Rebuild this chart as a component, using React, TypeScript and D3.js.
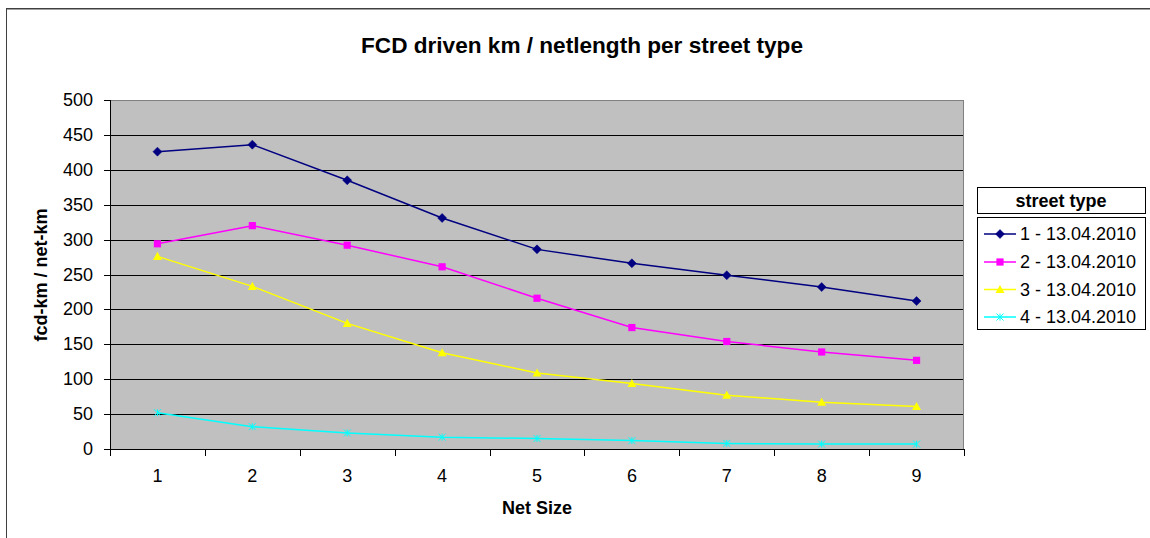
import React from "react";
import * as d3 from "d3";

const categories = ["1", "2", "3", "4", "5", "6", "7", "8", "9"];
const series1 = [426, 436, 385, 331, 286, 266, 249, 232, 212];
const series2 = [294, 320, 292, 261, 216, 174, 154, 139, 127];
const series3 = [276, 233, 180, 138, 109, 94, 77, 67, 61];
const series4 = [52, 32, 23, 17, 15, 12, 8, 7, 7];
const seriesNames = ["1 - 13.04.2010", "2 - 13.04.2010", "3 - 13.04.2010", "4 - 13.04.2010"];
const yTicks = [0, 50, 100, 150, 200, 250, 300, 350, 400, 450, 500];

const colors = ["#000080", "#FF00FF", "#FFFF00", "#00FFFF"];
const markers = ["diamond", "square", "triangle", "star"];
const FONT = "'Liberation Sans', Arial, sans-serif";

function Marker({ type, x, y, color }: { type: string; x: number; y: number; color: string }) {
  if (type === "diamond") {
    const s = 4.5;
    return <path d={`M${x},${y - s}L${x + s},${y}L${x},${y + s}L${x - s},${y}Z`} fill={color} stroke={color} strokeWidth={0.5} />;
  }
  if (type === "square") {
    const s = 3.6;
    return <rect x={x - s} y={y - s} width={2 * s} height={2 * s} fill={color} />;
  }
  if (type === "triangle") {
    const s = 4.5;
    return <path d={`M${x},${y - s}L${x + s},${y + s * 0.8}L${x - s},${y + s * 0.8}Z`} fill={color} />;
  }
  const s = 3.5;
  return (
    <path
      d={`M${x - s},${y - s}L${x + s},${y + s}M${x - s},${y + s}L${x + s},${y - s}M${x},${y - s}L${x},${y + s}`}
      stroke={color}
      strokeWidth={1}
      fill="none"
    />
  );
}

export default function App() {
  const W = 1150;
  const H = 538;
  const left = 110;
  const right = 964;
  const top = 100;
  const bottom = 449;

  const x = d3.scaleBand<string>().domain(categories).range([left, right]).padding(0);
  const y = d3.scaleLinear().domain([0, 500]).range([bottom, top]);
  const cx = (c: string) => (x(c) as number) + x.bandwidth() / 2;

  const allSeries = [series1, series2, series3, series4];
  const line = d3
    .line<number>()
    .x((_, i) => cx(categories[i]))
    .y((d) => y(d));

  const boundaries = categories.map((c) => x(c) as number).concat([right]);

  const legX = 977;
  const legW = 168;
  const legEntryY = [234, 262, 289.5, 317];

  return (
    <svg width={W} height={H} style={{ position: "absolute", left: 0, top: 0, background: "#fff" }} fontFamily={FONT}>
      {/* outer frame */}
      <line x1={6} y1={8.5} x2={W} y2={8.5} stroke="#404040" strokeWidth={1} />
      <line x1={6} y1={9.5} x2={W} y2={9.5} stroke="#a0a0a0" strokeWidth={1} />
      <line x1={6.5} y1={8} x2={6.5} y2={H} stroke="#404040" strokeWidth={1} />

      {/* title */}
      <text x={582} y={45} textAnchor="middle" dominantBaseline="central" fontSize={22.6} fontWeight="bold" fill="#000">
        FCD driven km / netlength per street type
      </text>

      {/* plot area */}
      <rect x={left} y={top} width={right - left} height={bottom - top} fill="#C0C0C0" />
      {yTicks.map((t) => (
        <line key={"g" + t} x1={left} x2={right} y1={Math.round(y(t)) + 0.5} y2={Math.round(y(t)) + 0.5} stroke={t === 500 ? "#808080" : "#000"} strokeWidth={1} />
      ))}
      <line x1={right - 0.5} x2={right - 0.5} y1={top} y2={bottom} stroke="#808080" strokeWidth={1} />

      {/* y axis */}
      <line x1={left + 0.5} x2={left + 0.5} y1={top} y2={bottom + 1} stroke="#000" strokeWidth={1} />
      {yTicks.map((t) => (
        <g key={"yt" + t}>
          <line x1={left - 6} x2={left} y1={Math.round(y(t)) + 0.5} y2={Math.round(y(t)) + 0.5} stroke="#000" strokeWidth={1} />
          <text x={93} y={y(t)} textAnchor="end" dominantBaseline="central" fontSize={18} fill="#000">
            {t}
          </text>
        </g>
      ))}

      {/* x axis */}
      <line x1={left} x2={right} y1={bottom + 0.5} y2={bottom + 0.5} stroke="#000" strokeWidth={1} />
      {boundaries.map((b, i) => (
        <line key={"xt" + i} x1={Math.round(b) + 0.5} x2={Math.round(b) + 0.5} y1={bottom} y2={bottom + 7} stroke="#000" strokeWidth={1} />
      ))}
      {categories.map((c) => (
        <text key={"xl" + c} x={cx(c)} y={476} textAnchor="middle" dominantBaseline="central" fontSize={18} fill="#000">
          {c}
        </text>
      ))}

      {/* axis titles */}
      <text x={537} y={508} textAnchor="middle" dominantBaseline="central" fontSize={18} fontWeight="bold" fill="#000">
        Net Size
      </text>
      <text
        transform={`translate(41,275) rotate(-90)`}
        textAnchor="middle"
        dominantBaseline="central"
        fontSize={18}
        fontWeight="bold"
        fill="#000"
      >
        fcd-km / net-km
      </text>

      {/* series */}
      {allSeries.map((s, si) => (
        <g key={"s" + si}>
          <path d={line(s) as string} fill="none" stroke={colors[si]} strokeWidth={1.5} />
          {s.map((v, i) => (
            <Marker key={i} type={markers[si]} x={cx(categories[i])} y={y(v)} color={colors[si]} />
          ))}
        </g>
      ))}

      {/* legend */}
      <rect x={legX + 0.5} y={187.5} width={legW} height={26} fill="#fff" stroke="#000" strokeWidth={1} />
      <text x={legX + legW / 2} y={200.5} textAnchor="middle" dominantBaseline="central" fontSize={18} fontWeight="bold" fill="#000">
        street type
      </text>
      <rect x={legX + 0.5} y={217.5} width={legW} height={112} fill="#fff" stroke="#000" strokeWidth={1} />
      {seriesNames.map((n, i) => (
        <g key={"l" + i}>
          <line x1={984} x2={1016} y1={legEntryY[i]} y2={legEntryY[i]} stroke={colors[i]} strokeWidth={1.5} />
          <Marker type={markers[i]} x={1000} y={legEntryY[i]} color={colors[i]} />
          <text x={1020} y={legEntryY[i]} dominantBaseline="central" fontSize={18} fill="#000">
            {n}
          </text>
        </g>
      ))}
    </svg>
  );
}
